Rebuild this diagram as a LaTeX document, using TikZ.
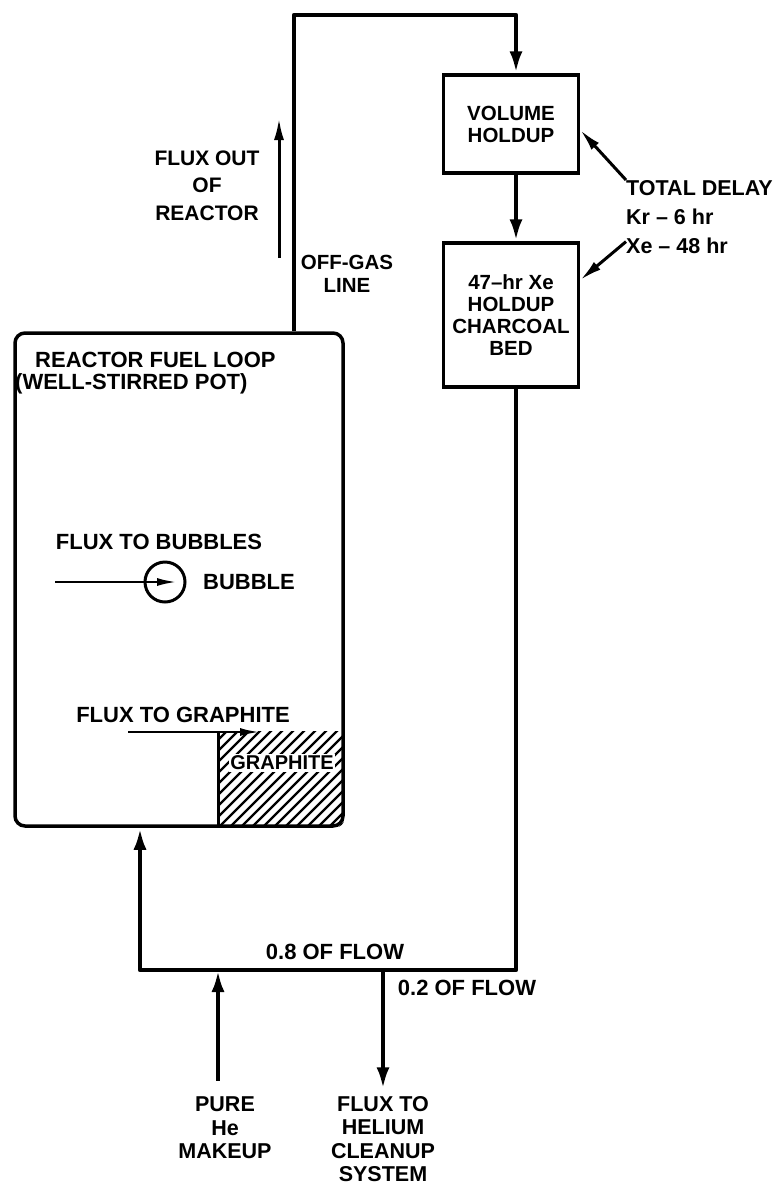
\documentclass[tikz,border=0pt]{standalone}
\usepackage{fontspec}
\setmainfont{Liberation Sans}
\usetikzlibrary{arrows.meta,positioning,calc}

\begin{document}
\begin{tikzpicture}[
  x=1pt, y=-1pt,
  tag/.style={font=\fontsize{22}{24}\selectfont\bfseries, align=center, inner sep=0pt},
  holdbox/.style={draw, line width=3.5pt, minimum width=135pt, align=center, font=\fontsize{20.5}{22}\selectfont\bfseries},
  pipe/.style={line width=4.5pt, line join=round, -{Latex[length=22pt,width=13pt]}},
  pointer/.style={line width=3pt, -{Latex[length=22pt,width=10pt]}},
  fine/.style={line width=2.5pt, -{Latex[length=20pt,width=8pt]}}
]
\useasboundingbox (0,0) rectangle (779,1187);
\node[draw, line width=3.5pt, rounded corners=10pt, minimum width=328pt, minimum height=493pt, inner sep=0pt] (reactor) at (179,579.5) {};
\node[minimum width=126pt, minimum height=96pt, inner sep=0pt, anchor=south east] (graphite) at (reactor.south east) {};
\begin{scope}
  \clip[rounded corners=10pt] (reactor.north west) rectangle (reactor.south east);
  \clip (graphite.north west) rectangle (graphite.south east);
  \foreach \i in {0,11,...,240}
    \draw[line width=2.3pt] ($(graphite.south west)+(\i-110,0)$) -- ++(110,-110);
\end{scope}
\draw[line width=3.5pt] (graphite.north west) -- (graphite.south west);
\node[tag, fill=white, inner sep=1.5pt, font=\fontsize{20}{24}\selectfont\bfseries] (graphitename) at (282,763) {GRAPHITE};
\node[tag, anchor=west] (looptitle) at (35,360) {REACTOR FUEL LOOP};
\node[tag, anchor=west] (loopsub) at (15,384) {(WELL-STIRRED POT)};
\node[tag] (bubbletext) at (159,542) {FLUX TO BUBBLES};
\node[draw, circle, line width=3pt, minimum size=40pt, inner sep=0pt] (bubble) at (165,582) {};
\node[tag, anchor=west] (bubblename) at (203,582) {BUBBLE};
\node[tag] (graphtext) at (183,715) {FLUX TO GRAPHITE};
\node[holdbox, minimum height=98pt] (volume) at (511,124) {VOLUME\\HOLDUP};
\node[holdbox, minimum height=144pt] (charcoal) at (511,315) {47--hr Xe\\HOLDUP\\CHARCOAL\\BED};
\node[tag, anchor=north west, align=left, font=\fontsize{21.5}{29}\selectfont\bfseries] (delay) at (626,180) {TOTAL DELAY\\Kr -- 6 hr\\Xe -- 48 hr};
\node[tag, font=\fontsize{21}{27.5}\selectfont\bfseries] (fluxout) at (207,185.5) {FLUX OUT\\OF\\REACTOR};
\node[tag, font=\fontsize{20.5}{23}\selectfont\bfseries] (offgas) at (347,273.5) {OFF-GAS\\LINE};
\node[tag] (lowflow) at (335,952) {0.8 OF FLOW};
\node[tag] (splitflow) at (467,988) {0.2 OF FLOW};
\node[tag, font=\fontsize{21.5}{23.5}\selectfont\bfseries] (makeup) at (225,1128) {PURE\\He\\MAKEUP};
\node[tag, font=\fontsize{21.5}{23.3}\selectfont\bfseries] (cleanup) at (383,1139) {FLUX TO\\HELIUM\\CLEANUP\\SYSTEM};
\coordinate (gasturn) at (294,15);
\coordinate (gastop) at (516,15);
\coordinate (loopturn) at (140,970);
\coordinate (hejoin) at (218,970);
\coordinate (split) at (383,970);
\coordinate (outfoot) at (279,258);
\coordinate (outtip) at (279,118);
\coordinate (bubblefoot) at (55,582);
\coordinate (graphfoot) at (128,732);
\coordinate (graphtip) at (260,732);
\draw[pipe] (reactor.north -| gasturn) -- (gasturn) -- (gastop) -- (gastop |- volume.north);
\draw[pipe] (volume.south -| gastop) -- (charcoal.north -| gastop);
\draw[pipe] (charcoal.south -| gastop) |- (loopturn) -- (loopturn |- reactor.south);
\draw[pipe, shorten <=16pt] (makeup.north -| hejoin) -- (hejoin);
\draw[pipe, shorten >=7pt] (split) -- (cleanup.north);
\draw[pointer] (outfoot) -- (outtip);
\draw[pointer] (delay.north west) -- ([yshift=-6pt]volume.east);
\draw[pointer] ([yshift=12pt]delay.south west) -- ([yshift=35pt]charcoal.east);
\draw[fine] (bubblefoot) -- ([xshift=12pt]bubble.center);
\draw[fine] (graphfoot) -- (graphtip);
\end{tikzpicture}
\end{document}
